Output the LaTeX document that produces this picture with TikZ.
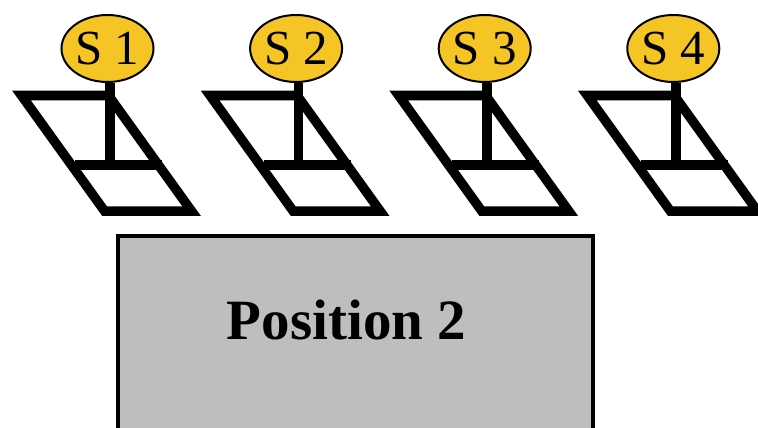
\documentclass[tikz,border=0pt]{standalone}
\usepackage{fontspec}
\setmainfont{Liberation Serif}
\usetikzlibrary{shapes.geometric}
\definecolor{sunyellow}{HTML}{F5C425}
\definecolor{boxgray}{HTML}{BEBEBE}
\tikzset{
  sensor/.style={ellipse,draw=black,line width=2pt,fill=sunyellow,minimum width=92pt,minimum height=67pt,inner sep=0pt,font=\fontsize{49}{49}\selectfont},
  panel/.style={line width=9.5pt,line join=miter}
}
\begin{document}
\begin{tikzpicture}[x=1pt,y=-1pt]
\useasboundingbox (0,0) rectangle (758,428);
\clip (0,0) rectangle (758,428);

%Spacing of the sensors
\def\dx{188.6}
\def\xa{107.5}

%Box
\node [draw=black,line width=4pt,fill=boxgray,minimum width=475pt,minimum height=220pt,anchor=north west,inner sep=0pt] (box) at (116,234) {};
\node [font=\fontsize{57}{57}\selectfont\bfseries] (label) at (346.5,320) {Position 2};

%Panels with sensors
\foreach \i in {1,...,4}{
  \pgfmathsetmacro{\cx}{\xa+(\i-1)*\dx}
  \node [sensor] (s\i) at (\cx,48.5) {S \i};
  \coordinate (tl\i) at (\cx-86,95.5);
  \coordinate (tr\i) at (\cx+1,95.5);
  \coordinate (br\i) at (\cx+84,211);
  \coordinate (bl\i) at (\cx-3,211);
  \coordinate (pole\i) at (\cx+2.5,170);
  \coordinate (ca\i) at (\cx-32.5,165);
  \coordinate (cb\i) at (\cx+54.5,165);
  \draw [panel] (tl\i) -- (tr\i) -- (br\i) -- (bl\i) -- cycle;
  \draw [panel] (ca\i) -- (cb\i);
  \draw [panel] (s\i.south -| pole\i) -- (pole\i);
}
\end{tikzpicture}
\end{document}
